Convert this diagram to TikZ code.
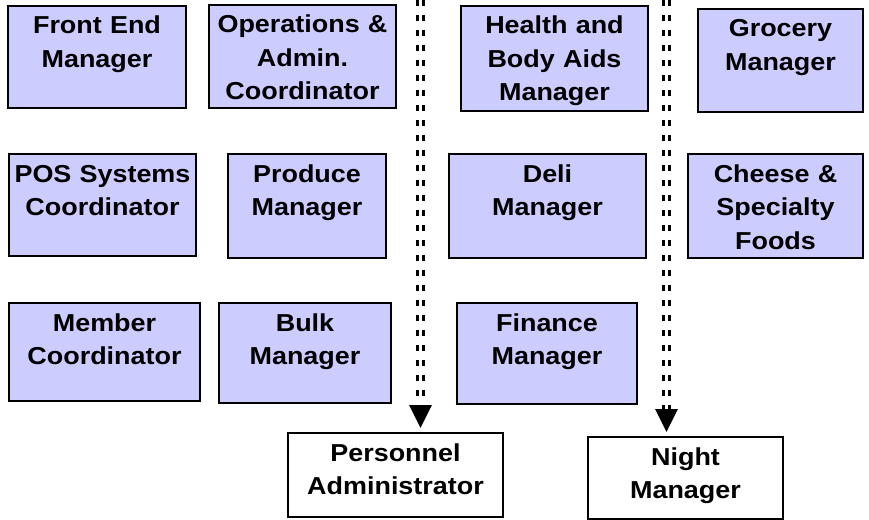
\documentclass[tikz,border=0pt]{standalone}
\usepackage{fontspec}
\newfontfamily\orgfont[FakeStretch=1.1]{Liberation Sans}
\usetikzlibrary{arrows.meta}
\definecolor{unitfill}{RGB}{204,204,255}

\begin{document}
\begin{tikzpicture}[x=1pt,y=1pt]

			\tikzstyle{every node}=[font=\orgfont\bfseries\fontsize{24.5}{33.5}\selectfont]
			\tikzset{unit/.style 2 args={draw, line width=2pt, fill=unitfill, anchor=north west,
					inner sep=0pt, align=center, text width=#1, text height=28pt, text depth=#2}}
			\tikzstyle{post}=[unit={#1}{56pt}, fill=white]
			\tikzstyle{chain}=[double, line width=3pt, double distance=3pt, dash pattern=on 6pt off 9pt,
				-{Triangle[width=22pt,length=23pt]}]

			\useasboundingbox (0,0) rectangle (869,-519);

			% first row
			\node[unit={178pt}{74pt}] (frontend) at (7,-5) {Front End\\Manager};
			\node[unit={187pt}{75pt}] (operations) at (208,-4) {Operations \&\\Admin.\\Coordinator};
			\node[unit={187pt}{77pt}] (health) at (460,-5) {Health and\\Body Aids\\Manager};
			\node[unit={165pt}{75pt}] (grocery) at (697,-8) {Grocery\\Manager};

			% second row
			\node[unit={187pt}{74pt}] (pos) at (8,-153) {POS Systems\\Coordinator};
			\node[unit={158pt}{76pt}] (produce) at (227,-153) {Produce\\Manager};
			\node[unit={197pt}{76pt}] (deli) at (448,-153) {Deli\\Manager};
			\node[unit={175pt}{76pt}] (cheese) at (687,-153) {Cheese \&\\Specialty\\Foods};

			% third row
			\node[unit={191pt}{70pt}] (member) at (8,-302) {Member\\Coordinator};
			\node[unit={172pt}{72pt}] (bulk) at (218,-302) {Bulk\\Manager};
			\node[unit={180pt}{73pt}] (finance) at (456,-302) {Finance\\Manager};

			% bottom
			\node[post={215pt}] (personnel) at (287,-432) {Personnel\\Administrator};
			\node[post={195pt}, text depth=54pt] (night) at (587,-436) {Night\\Manager};

			\coordinate (topL) at (420.5,0);
			\coordinate (topR) at (666.5,0);
			\draw[chain] (topL) -- ([yshift=4pt]topL |- personnel.north);
			\draw[chain] (topR) -- ([yshift=4pt]topR |- night.north);

\end{tikzpicture}
\end{document}
